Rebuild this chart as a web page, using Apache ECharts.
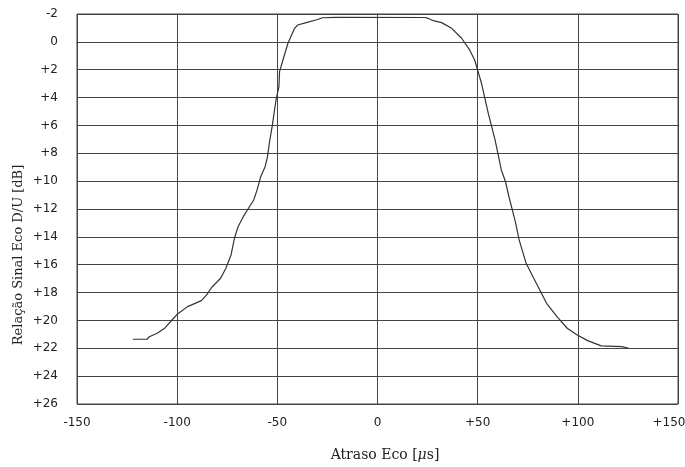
<!DOCTYPE html>
<html>
<head>
<meta charset="utf-8">
<script src="https://cdn.jsdelivr.net/npm/echarts@6/dist/echarts.min.js"></script>
<style>html,body{margin:0;padding:0;background:#fff}#c{width:685px;height:467px}</style>
</head>
<body>
<div id="c"></div>
<script>
var delayUs = [-122.1,-115.1,-113.9,-110.0,-106.2,-102.6,-100.0,-94.8,-87.9,-85.3,-82.7,-78.3,-75.7,-73.1,-71.4,-69.6,-67.0,-64.4,-61.8,-60.1,-58.3,-56.1,-54.9,-54.0,-52.6,-51.4,-50.5,-49.2,-48.9,-47.2,-44.7,-41.4,-39.8,-35.6,-30.7,-27.4,-20.8,23.8,25.2,27.9,32.0,37.0,42.0,46.0,48.5,50.2,51.9,53.6,55.3,57.0,58.7,60.1,61.8,63.9,65.6,67.3,69.0,70.7,74.2,77.6,81.0,84.4,89.6,94.7,99.7,104.9,111.7,122.0,125.4];
var ratioDb = [21.35,21.35,21.17,20.92,20.56,19.97,19.56,19.01,18.58,18.17,17.62,16.97,16.26,15.30,14.10,13.27,12.55,11.95,11.35,10.63,9.68,8.96,8.24,7.28,6.09,4.89,4.05,3.22,2.14,1.30,0.10,-0.97,-1.21,-1.38,-1.57,-1.73,-1.76,-1.75,-1.69,-1.52,-1.38,-0.97,-0.26,0.58,1.30,2.14,2.97,4.05,5.13,6.09,7.05,8.00,9.20,10.04,11.12,12.07,13.03,14.22,15.90,16.86,17.81,18.77,19.73,20.56,21.04,21.45,21.83,21.88,22.0];
var xTicks = [-150,-100,-50,0,50,100,150];
var yTicks = [-2,0,2,4,6,8,10,12,14,16,18,20,22,24,26];

var pts = delayUs.map(function(x,i){return [x, ratioDb[i]];});
function signed(v){ return v > 0 ? '+' + v : String(v); }
var xMax = xTicks[xTicks.length-1];
function xLabel(v){ return v === xMax ? '{e|' + signed(v) + '}' : signed(v); }
var labelFont = {fontFamily:'DejaVu Sans', fontSize:12, color:'#222'};
var chart = echarts.init(document.getElementById('c'), null, {renderer:'canvas'});
chart.setOption({
  animation:false,
  backgroundColor:'#fff',
  grid:{left:77, right:7, top:14, bottom:63, containLabel:false, outerBoundsMode:'none', show:true, borderColor:'#444', borderWidth:1},
  xAxis:{
    type:'value', min:xTicks[0], max:xMax, interval:50,
    axisLine:{show:true, lineStyle:{color:'#444', width:1}},
    axisTick:{show:false},
    axisLabel:Object.assign({margin:13, formatter:xLabel, rich:{e:{fontFamily:'DejaVu Sans', fontSize:12, color:'#222', padding:[0,18,0,0]}}}, labelFont),
    splitLine:{show:true, lineStyle:{color:'#444', width:1}}
  },
  yAxis:{
    type:'value', inverse:true, min:yTicks[0], max:yTicks[yTicks.length-1], interval:2,
    axisLine:{show:true, lineStyle:{color:'#444', width:1}},
    axisTick:{show:false},
    axisLabel:Object.assign({margin:19, formatter:signed}, labelFont),
    splitLine:{show:true, lineStyle:{color:'#444', width:1}}
  },
  graphic:[
    {type:'text', x:385, y:455, style:{text:'Atraso Eco [{i|μ}s]', rich:{i:{fontStyle:'italic', fontFamily:'DejaVu Serif', fontSize:14, fill:'#222'}}, fontFamily:'DejaVu Serif', fontSize:14, fill:'#222', textAlign:'center', textVerticalAlign:'middle'}},
    {type:'text', rotation:Math.PI/2, x:19, y:255, style:{text:'Relação Sinal Eco D/U [dB]', fontFamily:'DejaVu Serif', fontSize:13, fill:'#222', textAlign:'center', textVerticalAlign:'middle'}}
  ],
  series:[{
    type:'line', data:pts, showSymbol:false, smooth:false,
    lineStyle:{color:'#333', width:1.2}
  }]
});
</script>
</body>
</html>
